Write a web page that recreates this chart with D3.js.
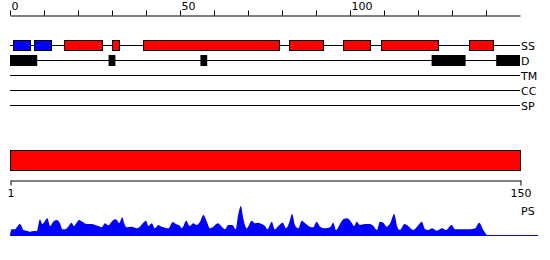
<!DOCTYPE html>
<html>
<head>
<meta charset="utf-8">
<script src="https://cdn.jsdelivr.net/npm/d3@7"></script>
<style>
  body { margin: 0; background: #fff; }
  text { font-family: "DejaVu Sans", sans-serif; font-size: 11px; }
</style>
</head>
<body>
<div id="chart"></div>
<script>
// chart data
const rowNames = ["SS", "D", "TM", "CC", "SP"]

// secondary structure segments (residue positions)
const ssStart = [1, 7, 16, 30, 39, 82, 98, 109, 135]
const ssEnd   = [6, 12, 27, 32, 79, 92, 106, 126, 142]
const ssType  = ["strand", "strand", "helix", "helix", "helix", "helix", "helix", "helix", "helix"]

// disorder segments
const dStart = [0, 29, 56, 124, 143]
const dEnd   = [8, 31, 58, 134, 150]

const topTicks = [0, 10, 20, 30, 40, 50, 60, 70, 80, 90, 100, 110, 120, 130, 140]
const seqTicks = [1, 150]

// PS profile (position, value)
const psPos = [0, 0.5, 1.5, 2.0, 2.9, 3.4, 3.9, 4.9, 5.9, 6.9, 7.9, 8.8, 9.5, 11.0, 11.8, 12.7, 13.7, 14.7,
  15.4, 16.2, 17.1, 18.1, 18.8, 19.6, 20.3, 21.3, 22.6, 24.0, 25.0, 26.0, 27.0, 27.9, 28.9, 29.9, 30.9,
  31.6, 32.1, 33.0, 33.6, 34.3, 35.8, 37.3, 38.2, 39.2, 40.0, 40.7, 41.7, 42.6, 43.6, 44.6, 45.6, 46.6,
  47.9, 48.8, 50.0, 50.5, 51.0, 51.8, 52.9, 53.9, 54.9, 55.9, 56.9, 57.9, 58.8, 59.8, 61.1, 62.3, 63.2,
  64.2, 65.4, 66.4, 67.1, 67.9, 68.6, 69.6, 71.1, 72.1, 73.0, 74.0, 75.0, 75.7, 77.0, 77.9, 78.9, 80.2,
  81.2, 82.1, 83.0, 83.8, 84.8, 85.8, 86.8, 88.2, 89.2, 90.2, 91.2, 92.6, 94.1, 95.1, 95.9, 96.9, 98.0,
  99.2, 100.5, 101.2, 102.0, 102.9, 104.4, 105.9, 106.9, 107.9, 108.8, 109.8, 110.8, 111.8, 113.0, 113.9,
  114.7, 116.0, 117.1, 118.6, 119.9, 121.1, 122.1, 123.0, 124.2, 125.5, 127.0, 128.2, 129.9, 130.9, 132.4,
  133.8, 135.3, 136.8, 138.0, 139.2, 140.2]
const psVal = [0, 5.7, 5.7, 7.7, 11, 9, 5, 4.3, 3.3, 4, 4, 15.7, 11, 16.7, 9, 13.3, 15, 11.7,
  5.7, 5.7, 8.3, 12.3, 9, 12.3, 15, 13.3, 11, 11, 10, 9, 7.7, 11.7, 9.7, 13.3, 15.7,
  14.3, 11.7, 17.7, 11.7, 7.7, 8.3, 6.7, 8.3, 12.3, 14.3, 9, 11.7, 6.7, 10, 8.3, 7.3, 6.7,
  13, 11, 9, 6.7, 9, 14.3, 9, 11.7, 10, 13.3, 20, 13.3, 6.7, 8.3, 11.7, 8.3, 5.7,
  10, 10, 5.7, 20, 29, 16.7, 6.7, 14.3, 11.7, 12.3, 11, 9, 5.7, 13.3, 5.7, 9, 12.3,
  6.7, 12.3, 21, 10, 6.7, 14.3, 11.7, 8.3, 7.7, 13.3, 8.3, 6.7, 7.7, 12.3, 5, 10, 15.7,
  16.7, 12.3, 9, 13.3, 10, 11, 11, 9, 5, 13.3, 12.3, 8.3, 11.7, 21, 8.3,
  5, 11, 9, 5, 9, 13.3, 5.7, 5, 6.7, 4.3, 6.7, 5, 10, 5.7, 5.7,
  5.7, 5.7, 6.7, 12.3, 5, 0]

const width = 550
const height = 260

const svg = d3.select("#chart")
  .append("svg")
  .attr("width", width)
  .attr("height", height)

const x = d3.scaleLinear().domain([0, 150]).range([10, 520])
const rowY = d3.scalePoint().domain(rowNames).range([45, 105])
const ssColour = d3.scaleOrdinal().domain(["strand", "helix"]).range(["#0000ff", "#ff0000"])

// top ruler
const topAxis = d3.axisTop(x)
  .tickValues(topTicks)
  .tickSize(5)
  .tickSizeOuter(0)
  .tickFormat(d => d % 50 === 0 ? d : "")
svg.append("g")
  .attr("transform", "translate(0,15.5)")
  .call(topAxis)
  .call(g => g.selectAll("path, line").attr("stroke", "#000"))
  .call(g => g.selectAll("text")
    .attr("text-anchor", "start")
    .attr("x", 1)
    .attr("y", -6)
    .attr("dy", 0)
    .attr("fill", "#000")
    .style("font-size", "11px")
    .style("font-family", "DejaVu Sans, sans-serif"))

// track lines + labels
svg.selectAll("line.track")
  .data(rowNames)
  .enter()
  .append("line")
  .attr("class", "track")
  .attr("x1", x(0)).attr("x2", x(150))
  .attr("y1", d => rowY(d) + 0.5).attr("y2", d => rowY(d) + 0.5)
  .attr("stroke", "#000")

svg.selectAll("text.rowlab")
  .data(rowNames)
  .enter()
  .append("text")
  .attr("class", "rowlab")
  .attr("x", 521)
  .attr("y", d => rowY(d) + 4.5)
  .text(d => d)

// secondary structure boxes
svg.selectAll("rect.ss")
  .data(d3.range(ssStart.length))
  .enter()
  .append("rect")
  .attr("class", "ss")
  .attr("x", i => Math.round(x(ssStart[i])) + 0.5)
  .attr("width", i => Math.round(x(ssEnd[i])) - Math.round(x(ssStart[i])))
  .attr("y", rowY("SS") - 4.5)
  .attr("height", 10)
  .attr("fill", i => ssColour(ssType[i]))
  .attr("stroke", "#000")

// disorder boxes
svg.selectAll("rect.dis")
  .data(d3.range(dStart.length))
  .enter()
  .append("rect")
  .attr("class", "dis")
  .attr("x", i => x(dStart[i]))
  .attr("width", i => x(dEnd[i]) - x(dStart[i]))
  .attr("y", rowY("D") - 5)
  .attr("height", 11)
  .attr("fill", "#000")

// sequence bar
svg.append("rect")
  .attr("x", x(0) + 0.5)
  .attr("y", 150.5)
  .attr("width", x(150) - x(0))
  .attr("height", 20)
  .attr("fill", "#ff0000")
  .attr("stroke", "#000")

// sequence ruler
const seqX = d3.scaleLinear().domain([1, 150]).range([10, 520])
svg.append("g")
  .attr("transform", "translate(0.5,180.5)")
  .call(d3.axisBottom(seqX).tickValues(seqTicks).tickSize(5).tickSizeOuter(0).tickPadding(4))
  .call(g => g.selectAll("path, line").attr("stroke", "#000"))
  .call(g => g.selectAll("text")
    .attr("fill", "#000")
    .style("font-size", "11px")
    .style("font-family", "DejaVu Sans, sans-serif"))

svg.append("text")
  .attr("x", 521)
  .attr("y", 215)
  .text("PS")

// PS profile
const yPs = d3.scaleLinear().domain([0, 30]).range([235, 205])
const psData = psPos.map((p, i) => [p, psVal[i]])

svg.append("path")
  .datum(psData)
  .attr("fill", "#0000ff")
  .attr("d", d3.area()
    .x(d => x(d[0]))
    .y0(yPs(0))
    .y1(d => yPs(d[1]))
    .curve(d3.curveMonotoneX))

svg.append("line")
  .attr("x1", x(0)).attr("x2", 538)
  .attr("y1", yPs(0) + 0.5).attr("y2", yPs(0) + 0.5)
  .attr("stroke", "#0000ff")
</script>
</body>
</html>
